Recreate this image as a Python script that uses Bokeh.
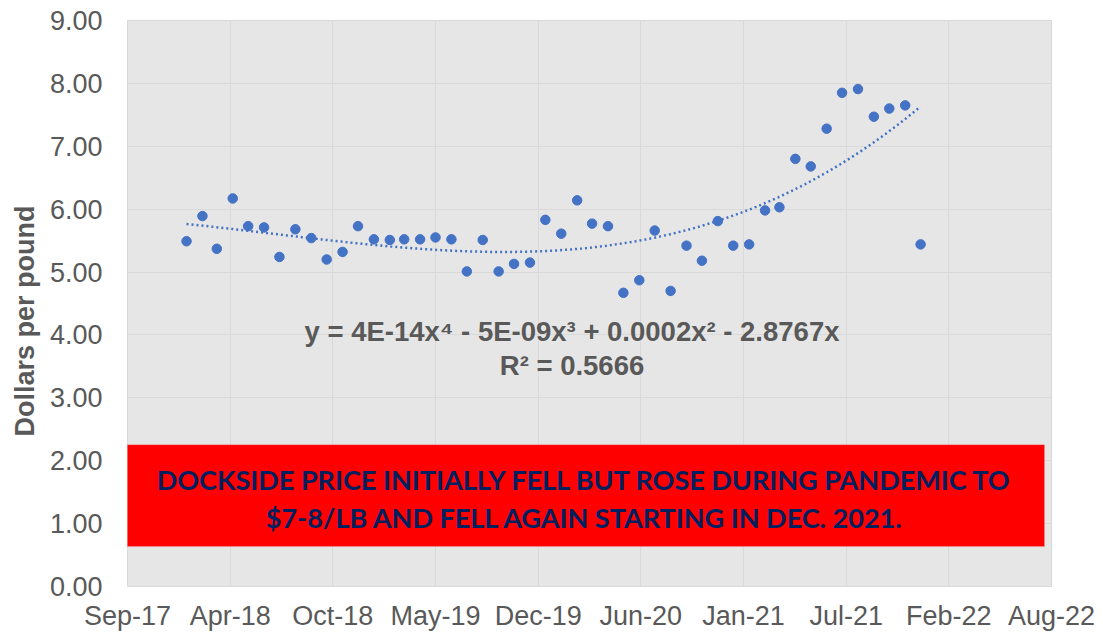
import numpy as np
import pandas as pd
from bokeh.plotting import figure
from bokeh.models import (Range1d, FixedTicker, BoxAnnotation, Label, Title,
                          NumeralTickFormatter, ColumnDataSource)
from bokeh.embed import file_html
from bokeh.resources import INLINE

# ---------------- data ----------------
months = pd.date_range("2018-01-01", "2021-12-01", freq="MS") + pd.Timedelta(days=14)
prices = [5.49, 5.89, 5.37, 6.17, 5.73, 5.71, 5.24, 5.68, 5.54, 5.20, 5.32, 5.73,
          5.52, 5.51, 5.52, 5.52, 5.55, 5.52, 5.01, 5.51, 5.01, 5.13, 5.15, 5.83,
          5.61, 6.14, 5.77, 5.73, 4.67, 4.87, 5.66, 4.70, 5.42, 5.18, 5.81, 5.42,
          5.44, 5.98, 6.03, 6.80, 6.68, 7.28, 7.85, 7.91, 7.47, 7.60, 7.65, 5.44]
tick_labels = ["Sep-17", "Apr-18", "Oct-18", "May-19", "Dec-19",
               "Jun-20", "Jan-21", "Jul-21", "Feb-22", "Aug-22"]
y_ticks = [0, 1, 2, 3, 4, 5, 6, 7, 8, 9]
y_title = "Dollars per pound"
equation = "y = 4E-14x\u2074 - 5E-09x\u00b3 + 0.0002x\u00b2 - 2.8767x"
r_squared = "R\u00b2 = 0.5666"
banner_lines = ["DOCKSIDE PRICE INITIALLY FELL BUT ROSE DURING PANDEMIC TO",
                "$7-8/LB AND FELL AGAIN STARTING IN DEC. 2021."]

# ---------------- axis setup ----------------
DAY = 86400000.0
x_start = pd.Timestamp("2017-09-22")
x_end = x_start + pd.Timedelta(days=1800)
def ms(ts):
    return ts.value / 1e6
x0 = ms(x_start)
tick_pos = [x0 + i * 200 * DAY for i in range(len(tick_labels))]

# trendline: Excel-style polynomial (order 4, no constant) on serial dates
serial = np.array([(t - pd.Timestamp("1899-12-30")).days for t in months], dtype=float)
y_arr = np.array(prices)
u = serial / 44000.0
v = (serial - 43800.0) / 800.0
A = np.column_stack([u, u * v, u * v ** 2, u * v ** 3])
beta, *_ = np.linalg.lstsq(A, y_arr, rcond=None)
s_fit = np.linspace(serial[0], serial[-1], 300)
uf = s_fit / 44000.0
vf = (s_fit - 43800.0) / 800.0
trend_y = np.column_stack([uf, uf * vf, uf * vf ** 2, uf * vf ** 3]) @ beta
trend_x = ms(pd.Timestamp("1899-12-30")) + s_fit * DAY

GRAY = "#595959"
BLUE = "#4472C4"

p = figure(width=1100, height=633, x_axis_type="datetime",
           output_backend="svg", toolbar_location=None,
           min_border_left=126, min_border_right=49,
           min_border_top=20, min_border_bottom=46,
           background_fill_color="#E6E6E6", border_fill_color="white",
           outline_line_color="#D9D9D9")
p.x_range = Range1d(x0, ms(x_end))
p.y_range = Range1d(0, 9)

p.xaxis.ticker = FixedTicker(ticks=tick_pos)
p.xaxis.major_label_overrides = {tp: lab for tp, lab in zip(tick_pos, tick_labels)}
p.yaxis.ticker = FixedTicker(ticks=y_ticks)
p.yaxis.formatter = NumeralTickFormatter(format="0.00")

for ax in (p.xaxis[0], p.yaxis[0]):
    ax.axis_line_color = None
    ax.major_tick_line_color = None
    ax.minor_tick_line_color = None
    ax.major_tick_out = 0
    ax.major_tick_in = 0
    ax.major_label_text_font = "Liberation Sans"
    ax.major_label_text_font_size = "27px"
    ax.major_label_text_color = GRAY
p.xaxis.major_label_standoff = 14
p.yaxis.major_label_standoff = 25

p.xgrid.grid_line_color = "#D9D9D9"
p.ygrid.grid_line_color = "#D9D9D9"
p.xgrid.ticker = FixedTicker(ticks=tick_pos)
p.ygrid.ticker = FixedTicker(ticks=y_ticks)

# y axis title (bottom end of the text 150px above the frame bottom)
p.add_layout(Title(text=y_title, align="left", offset=150, standoff=14,
                   text_font="Liberation Sans", text_font_style="bold",
                   text_font_size="27px", text_color=GRAY), "left")

# data
src = ColumnDataSource(dict(x=months, y=prices))
p.scatter("x", "y", source=src, size=9.5, fill_color=BLUE, line_color=BLUE)
p.line(trend_x, trend_y, line_color=BLUE, line_width=2.5, line_dash="2 3")

# pixel helpers for annotations (frame: x 126..1051, y 20..587)
PX_PER_DAY = 925.0 / 1800.0
def xpx(px):
    return x0 + (px - 126.0) / PX_PER_DAY * DAY
def ypx(py):
    return (587.0 - py) / 63.0

# equation
p.add_layout(Label(x=xpx(571), y=ypx(332), text=equation,
                   text_align="center", text_baseline="alphabetic",
                   text_font="Liberation Sans", text_font_style="bold",
                   text_font_size="27.5px", text_color=GRAY))
p.add_layout(Label(x=xpx(571), y=ypx(365.5), text=r_squared,
                   text_align="center", text_baseline="alphabetic",
                   text_font="Liberation Sans", text_font_style="bold",
                   text_font_size="27.5px", text_color=GRAY))

# red banner
p.add_layout(BoxAnnotation(left=xpx(123), right=xpx(1044),
                           top=ypx(445), bottom=ypx(547),
                           fill_color="#FF0000", fill_alpha=1.0,
                           line_color="#F3A6A6", line_width=1))
for i, line in enumerate(banner_lines):
    p.add_layout(Label(x=xpx(584), y=ypx(480 + 38 * i), text=line,
                       text_align="center", text_baseline="alphabetic",
                       text_font="Lato", text_font_style="bold",
                       text_font_size="27px", text_color="#002060"))

open("out.html", "w").write(file_html(p, INLINE))
